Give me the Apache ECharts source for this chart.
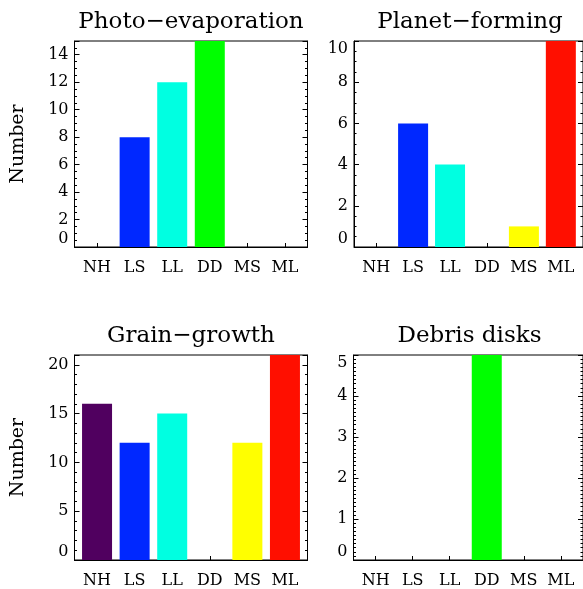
<!DOCTYPE html>
<html>
<head>
<meta charset="utf-8">
<script src="https://cdn.jsdelivr.net/npm/echarts@6/dist/echarts.min.js"></script>
<style>
  html, body { margin: 0; padding: 0; background: #fff; }
  #chart { width: 583px; height: 589px; }
</style>
</head>
<body>
<div id="chart"></div>
<script>
// Disk categories along the x axis
const categories = ['NH', 'LS', 'LL', 'DD', 'MS', 'ML'];
const barColors = ['#50005f', '#0028ff', '#00ffe1', '#00ff00', '#ffff00', '#ff0f00'];

// Counts per category for each scenario
const photoEvaporation = [0, 8, 12, 15, 0, 0];
const planetForming = [0, 6, 4, 0, 1, 10];
const grainGrowth = [16, 12, 15, 0, 12, 21];
const debrisDisks = [0, 0, 0, 5, 0, 0];

const panelTitles = ['Photo\u2212evaporation', 'Planet\u2212forming', 'Grain\u2212growth', 'Debris disks'];
const panelData = [photoEvaporation, planetForming, grainGrowth, debrisDisks];

// Y axis ranges and tick steps per panel
const yMax = [15, 10, 21, 5];
const yStep = [2, 2, 5, 1];
const yMinorSplit = [4, 4, 5, 10];
const xTickValues = [0, 1, 2, 3, 4, 5];

const FONT = 'DejaVu Serif';

const grids = [
  { left: 74.5, top: 41, width: 233, height: 206 },
  { left: 354, top: 41, width: 232, height: 206 },
  { left: 74.5, top: 355, width: 233, height: 205 },
  { left: 353.5, top: 355, width: 232, height: 205 }
];

const option = {
  animation: false,
  backgroundColor: '#fff',
  title: [],
  grid: [],
  xAxis: [],
  yAxis: [],
  series: []
};

grids.forEach((g, i) => {
  option.grid.push(Object.assign({
    show: true, borderColor: '#000', borderWidth: 1, backgroundColor: 'transparent'
  }, g));

  option.title.push({
    text: panelTitles[i],
    left: g.left + g.width / 2,
    top: g.top - 30,
    textAlign: 'center',
    padding: 0,
    textStyle: { fontFamily: FONT, fontSize: 23, fontWeight: 'normal', color: '#000' }
  });

  option.xAxis.push({
    type: 'value',
    gridIndex: i,
    min: -0.6,
    max: 5.6,
    splitLine: { show: false },
    axisLine: { show: true, onZero: false, lineStyle: { color: '#000', width: 1 } },
    axisTick: { show: true, inside: true, length: 4, customValues: xTickValues, lineStyle: { color: '#000' } },
    axisLabel: {
      customValues: xTickValues,
      formatter: v => categories[Math.round(v)] || '',
      fontFamily: FONT, fontSize: 16, color: '#000', margin: 13
    }
  });

  const yCommon = {
    type: 'value',
    gridIndex: i,
    min: 0,
    max: yMax[i],
    interval: yStep[i],
    splitLine: { show: false },
    axisLine: { show: true, onZero: false, lineStyle: { color: '#000', width: 1 } },
    axisTick: { show: true, inside: true, length: 5, lineStyle: { color: '#000' } },
    minorTick: { show: true, splitNumber: yMinorSplit[i], length: 2.5, lineStyle: { color: '#000' } },
    minorSplitLine: { show: false }
  };
  const hasTopLabel = yMax[i] % yStep[i] === 0;
  option.yAxis.push(Object.assign({}, yCommon, {
    position: 'left',
    name: (i % 2 === 0) ? 'Number' : '',
    nameLocation: 'middle',
    nameGap: 47,
    nameTextStyle: { fontFamily: FONT, fontSize: 19, color: '#000' },
    axisLabel: {
      fontFamily: FONT, fontSize: 16, color: '#000', margin: 6,
      showMaxLabel: hasTopLabel,
      showMinLabel: true,
      verticalAlignMinLabel: 'bottom',
      verticalAlignMaxLabel: 'top'
    }
  }));
  option.yAxis.push(Object.assign({}, yCommon, {
    position: 'right',
    axisLabel: { show: false }
  }));

  option.series.push({
    type: 'bar',
    xAxisIndex: i,
    yAxisIndex: 2 * i,
    barWidth: 30,
    clip: true,
    data: panelData[i].map((v, k) => ({ value: [k, v], itemStyle: { color: barColors[k] } }))
  });
});

const chart = echarts.init(document.getElementById('chart'), null, { renderer: 'canvas' });
chart.setOption(option);
</script>
</body>
</html>
